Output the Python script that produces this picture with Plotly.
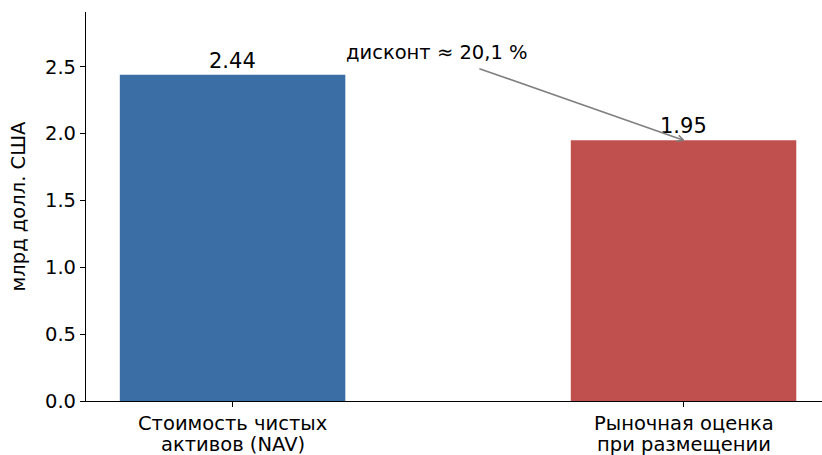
import math
import plotly.graph_objects as go

categories = ["Стоимость чистых\nактивов (NAV)", "Рыночная оценка\nпри размещении"]
values = [2.44, 1.95]
bar_colors = ["#3B6EA5", "#C0504D"]
y_ticks = [0.0, 0.5, 1.0, 1.5, 2.0, 2.5]
y_tick_labels = ["0.0", "0.5", "1.0", "1.5", "2.0", "2.5"]
y_title = "млрд долл. США"
discount_text = "дисконт ≈ 20,1 %"

FONT = "DejaVu Sans"
FS = 19.5
W, H = 822, 455
ML, MR, MT, MB = 86, 0, 12, 54
XR = [-0.325, 1.307]
YR = [0, 2.91]
xpos = list(range(len(categories)))

fig = go.Figure()
fig.add_trace(go.Bar(
    x=xpos, y=values, width=0.5,
    marker=dict(color=bar_colors, line=dict(width=0)),
    hoverinfo="skip",
))

annotations = []
for i, v in zip(xpos, values):
    annotations.append(dict(
        x=i, y=v, xref="x", yref="y", text=f"{v:.2f}", showarrow=False,
        yanchor="bottom", yshift=0, font=dict(family=FONT, size=21, color="black"),
    ))

# category labels (two lines each, tight line spacing)
for i, cat in zip(xpos, categories):
    for k, line in enumerate(cat.split("\n")):
        annotations.append(dict(
            x=i, y=0, xref="x", yref="paper", text=line, showarrow=False,
            xanchor="center", yanchor="middle", yshift=-22 - 21 * k,
            font=dict(family=FONT, size=FS, color="black"),
        ))

# discount arrow: line from near the text to the top of the second bar, open head
tail = (0.544, 2.49)
tip = (1, values[1])
sx = (W - ML - MR) / (XR[1] - XR[0])
sy = (H - MT - MB) / (YR[1] - YR[0])
dx_px = (tip[0] - tail[0]) * sx
dy_px = -(tip[1] - tail[1]) * sy  # screen y down
back = math.atan2(-dy_px, -dx_px)
arrow_col = "#808080"
annotations.append(dict(
    x=tip[0], y=tip[1], xref="x", yref="y",
    ax=tail[0], ay=tail[1], axref="x", ayref="y",
    text="", showarrow=True, arrowhead=0, arrowwidth=1.6,
    arrowcolor=arrow_col, standoff=0,
))
for sgn in (1, -1):
    ang = back + sgn * math.radians(27)
    annotations.append(dict(
        x=tip[0], y=tip[1], xref="x", yref="y",
        ax=9 * math.cos(ang), ay=9 * math.sin(ang),
        text="", showarrow=True, arrowhead=0, arrowwidth=1.6,
        arrowcolor=arrow_col, standoff=0,
    ))
annotations.append(dict(
    x=0.453, y=2.605, xref="x", yref="y", text=discount_text, showarrow=False,
    xanchor="center", yanchor="middle", font=dict(family=FONT, size=FS, color="black"),
))

fig.update_layout(
    width=W, height=H,
    margin=dict(l=ML, r=MR, t=MT, b=MB),
    paper_bgcolor="white", plot_bgcolor="white",
    showlegend=False,
    annotations=annotations,
    font=dict(family=FONT, size=FS, color="black"),
    xaxis=dict(
        range=XR, tickvals=xpos, ticktext=["" for _ in xpos],
        showline=True, linecolor="black", linewidth=1.2,
        ticks="outside", ticklen=5, tickwidth=1.2, tickcolor="black",
        showgrid=False, zeroline=False, automargin=False,
    ),
    yaxis=dict(
        range=YR, tickvals=y_ticks, ticktext=y_tick_labels,
        showline=True, linecolor="black", linewidth=1.2,
        ticks="outside", ticklen=5, tickwidth=1.2, tickcolor="black",
        showgrid=False, zeroline=False, automargin=False,
        tickfont=dict(family=FONT, size=FS, color="black"),
        title=dict(text=y_title, font=dict(family=FONT, size=FS, color="black"), standoff=14),
    ),
)

fig.write_html("out.html", config={"displayModeBar": False},
               post_script="document.body.style.margin='0';")
